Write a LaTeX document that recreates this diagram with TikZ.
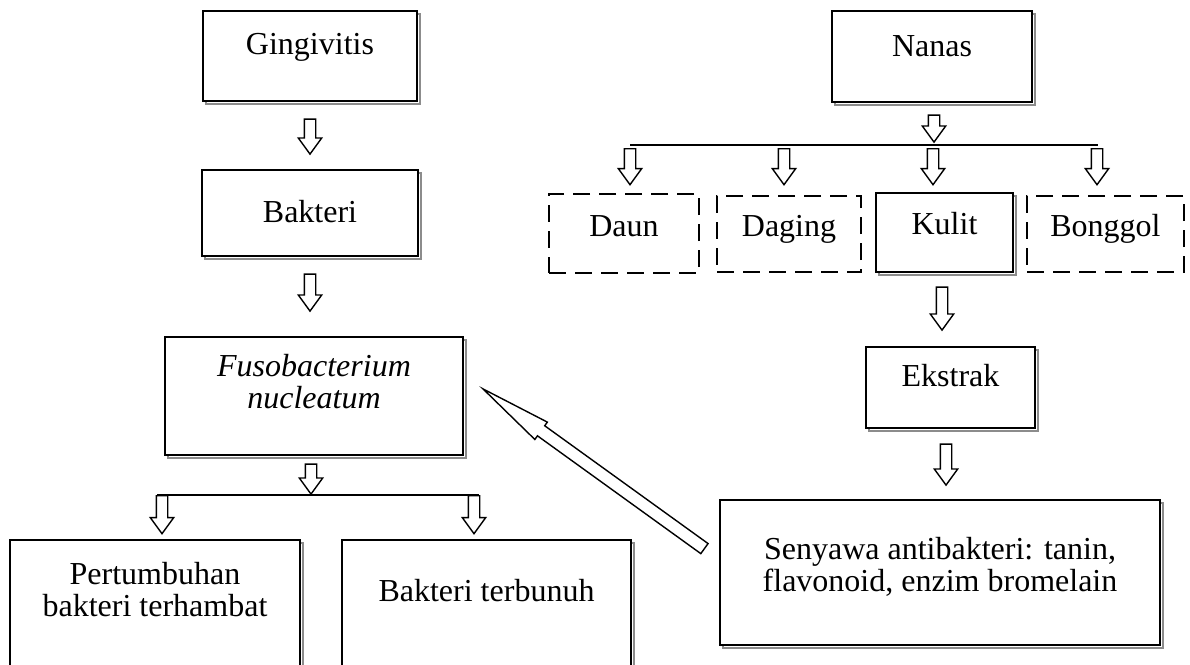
\documentclass[tikz,border=0pt]{standalone}
\usepackage{fontspec}
\setmainfont{Liberation Serif}
\usetikzlibrary{shapes.arrows,shadows,calc}

\begin{document}
\begin{tikzpicture}[x=1pt,y=-1pt]
\tikzstyle{every node}+=[inner sep=0pt]
\tikzstyle{box}=[draw, line width=2.8pt, fill=white, preaction={draw=black!45, line width=2.8pt, transform canvas={shift={(3pt,-3pt)}}}]
\tikzstyle{dbox}=[draw, line width=2.6pt, dash pattern=on 17pt off 9pt]
\tikzstyle{txt}=[font=\fontsize{32}{32}\selectfont, align=center, anchor=base]
\tikzstyle{darr}=[single arrow, draw, line width=1.4pt, fill=white, rotate=-90, anchor=tail, inner xsep=0pt, inner ysep=5pt, minimum width=22pt, single arrow head extend=6pt, single arrow tip angle=72]
\tikzstyle{bline}=[line width=1.6pt]
\useasboundingbox (0,0) rectangle (1190,664);
\node[box, minimum width=214pt, minimum height=90pt] (ging) at (310,56) {};
\node[txt] (gingt) at ([yshift=-45pt]ging.north) {Gingivitis};
\node[box, minimum width=216pt, minimum height=86pt] (bakt) at (310,213) {};
\node[txt] (baktt) at ([yshift=-54pt]bakt.north) {Bakteri};
\node[box, minimum width=298pt, minimum height=118pt] (fuso) at (314,396) {};
\node[txt] (fusot) at ([yshift=-73pt]fuso.north) {\textit{Fusobacterium}\\\textit{nucleatum}};
\node[box, minimum width=290pt, minimum height=160pt] (pert) at (155,620) {};
\node[txt] (pertt) at ([yshift=-78pt]pert.north) {Pertumbuhan\\bakteri terhambat};
\node[box, minimum width=289pt, minimum height=160pt] (bunuh) at (486.5,620) {};
\node[txt] (bunuht) at ([yshift=-63pt]bunuh.north) {Bakteri terbunuh};
\node[box, minimum width=200pt, minimum height=91pt] (nanas) at (932,56.5) {};
\node[txt] (nanast) at ([yshift=-47pt]nanas.north) {Nanas};
\node[dbox, minimum width=150pt, minimum height=79pt] (daun) at (624,233.5) {};
\node[txt] (daunt) at ([yshift=-44pt]daun.north) {Daun};
\node[dbox, minimum width=144pt, minimum height=76pt] (daging) at (789,234) {};
\node[txt] (dagingt) at ([yshift=-42pt]daging.north) {Daging};
\node[box, minimum width=137pt, minimum height=79pt] (kulit) at (944.5,232.5) {};
\node[txt] (kulitt) at ([yshift=-43pt]kulit.north) {Kulit};
\node[dbox, minimum width=157pt, minimum height=76pt] (bonggol) at (1105.5,234) {};
\node[txt] (bonggolt) at ([yshift=-42pt]bonggol.north) {Bonggol};
\node[box, minimum width=169pt, minimum height=81pt] (ekstrak) at (950.5,387.5) {};
\node[txt] (ekstrakt) at ([yshift=-41pt]ekstrak.north) {Ekstrak};
\node[box, minimum width=440pt, minimum height=145pt] (senyawa) at (940,572.5) {};
\node[txt] (senyawat) at ([yshift=-93pt]senyawa.north) {Senyawa antibakteri: tanin,\\flavonoid, enzim bromelain};
\node[darr, minimum height=35pt] (a1) at ([yshift=-16pt]ging.south) {};
\node[darr, minimum height=37pt] (a2) at ([yshift=-16pt]bakt.south) {};
\node[darr, minimum height=30pt] (a3) at ([xshift=-3pt,yshift=-7pt]fuso.south) {};
\coordinate (fl) at (157,495);
\coordinate (fr) at (479,495);
\draw[bline] (fl) -- (fr);
\node[darr, minimum height=38pt] (a4) at ([xshift=5pt]fl) {};
\node[darr, minimum height=38pt] (a5) at ([xshift=-5pt]fr) {};
\node[darr, minimum height=27pt] (a6) at ([xshift=2pt,yshift=-11pt]nanas.south) {};
\coordinate (nl) at (630,145);
\coordinate (nr) at (1098,145);
\draw[bline] (nl) -- (nr);
\node[darr, minimum height=36pt] (a7) at ([yshift=-3pt]nl) {};
\node[darr, minimum height=36pt] (a8) at (784,148) {};
\node[darr, minimum height=36pt] (a9) at (933,148) {};
\node[darr, minimum height=36pt] (a10) at ([xshift=-1pt,yshift=-3pt]nr) {};
\node[darr, minimum height=43pt] (a11) at ([xshift=-2.5pt,yshift=-13pt]kulit.south) {};
\node[darr, minimum height=41pt] (a12) at ([xshift=-4.5pt,yshift=-14pt]ekstrak.south) {};
\coordinate (bt) at (705,549);
\node[single arrow, draw, line width=1.4pt, fill=white, rotate=144.2, anchor=tail, inner xsep=0pt, inner ysep=5.5pt, minimum height=273pt, minimum width=20pt, single arrow head extend=4.5pt, single arrow tip angle=17] (big) at (bt) {};
\end{tikzpicture}
\end{document}
